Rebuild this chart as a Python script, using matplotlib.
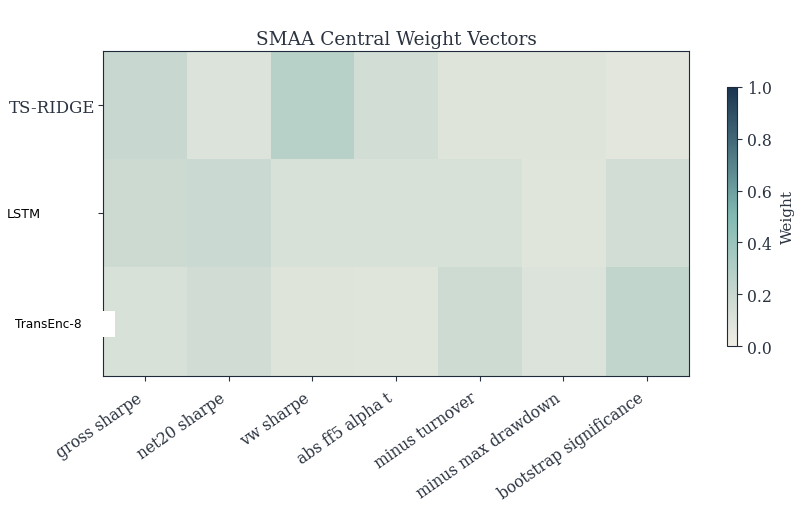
import numpy as np
import matplotlib
matplotlib.use("Agg")
import matplotlib.pyplot as plt
from matplotlib.colors import LinearSegmentedColormap

# data
criteria = ["gross sharpe", "net20 sharpe", "vw sharpe", "abs ff5 alpha t",
            "minus turnover", "minus max drawdown", "bootstrap significance"]
models = ["TS-RIDGE", "LSTM", "TransEnc-8"]
w_ts_ridge = [0.20, 0.10, 0.27, 0.15, 0.09, 0.09, 0.07]
w_lstm = [0.18, 0.19, 0.12, 0.12, 0.12, 0.08, 0.15]
w_transenc = [0.12, 0.16, 0.09, 0.08, 0.17, 0.10, 0.23]

weights = np.array([w_ts_ridge, w_lstm, w_transenc])

txt = "#2b3340"
plt.rcParams["font.family"] = "DejaVu Serif"
plt.rcParams["text.color"] = txt
plt.rcParams["axes.labelcolor"] = txt
plt.rcParams["xtick.color"] = txt
plt.rcParams["ytick.color"] = txt
plt.rcParams["axes.edgecolor"] = "#1f2a3a"

# stops at 0, 0.2, 0.5, 0.8, 1.0
cmap = LinearSegmentedColormap.from_list(
    "smaa", [(0.0, "#f1eee4"), (0.2, "#c8d8d0"), (0.5, "#82bab2"),
             (0.8, "#426878"), (1.0, "#1b3550")])

fig = plt.figure(figsize=(8.05, 5.1), dpi=100)
ax = fig.add_axes([0.128, 0.261, 0.728, 0.637])
im = ax.imshow(weights, cmap=cmap, vmin=0, vmax=1, aspect="auto")

ax.set_title("SMAA Central Weight Vectors", fontsize=13.3, pad=5)
ax.set_xticks(range(len(criteria)))
ax.set_xticklabels(criteria, rotation=35, ha="right", fontsize=11.2)
ax.tick_params(axis="x", pad=6)
ax.tick_params(axis="y", pad=2)
ax.set_yticks(range(len(models)))
ax.set_yticklabels([models[0], "", ""], fontsize=12)

# the other two model labels sit on their own
fig.text(7 / 805, 1 - 214 / 510, models[1], family="DejaVu Sans",
         fontsize=9.2, color="black", va="center", ha="left")
fig.text(15 / 805, 1 - 325 / 510, models[2] + "       ", family="DejaVu Sans",
         fontsize=8.7, color="black", va="center", ha="left", zorder=10,
         bbox=dict(facecolor="white", edgecolor="none", boxstyle="square,pad=0.5"))

cax = fig.add_axes([727 / 805, 1 - 347 / 510, 10 / 805, 259 / 510])
cb = fig.colorbar(im, cax=cax)
cb.set_ticks([0, 0.2, 0.4, 0.6, 0.8, 1.0])
cb.ax.tick_params(labelsize=11.3)
cb.set_label("Weight", fontsize=11, labelpad=7)

fig.savefig("out.png", dpi=100)
